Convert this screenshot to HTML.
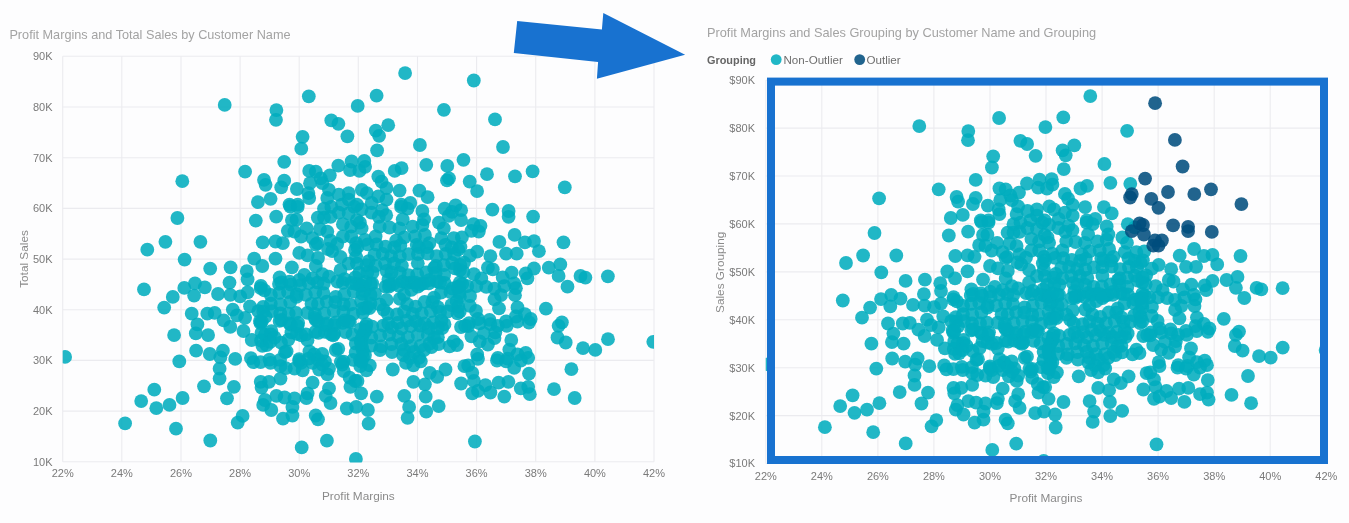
<!DOCTYPE html>
<html><head><meta charset="utf-8"><style>
html,body{margin:0;padding:0;background:#fdfdfe;width:1349px;height:523px;overflow:hidden}
svg{position:absolute;left:0;top:0}
text{font-family:"Liberation Sans",Arial,sans-serif}
.gl line{stroke:#ebebef;stroke-width:1.1}
.lab{fill:#7a7a7a;font-size:11px}
.ttl{fill:#a3a3a3;font-size:12.6px}
.axt{fill:#8a8a8a;font-size:11.8px}
.dots{fill:#00acbe;fill-opacity:0.87}
.dark{fill:#004d7d;fill-opacity:0.87}
</style></head><body>
<svg width="1349" height="523" viewBox="0 0 1349 523">
<g class="gl"><line x1="62.7" y1="56.3" x2="62.7" y2="461.8"/><line x1="121.8" y1="56.3" x2="121.8" y2="461.8"/><line x1="181.0" y1="56.3" x2="181.0" y2="461.8"/><line x1="240.1" y1="56.3" x2="240.1" y2="461.8"/><line x1="299.2" y1="56.3" x2="299.2" y2="461.8"/><line x1="358.3" y1="56.3" x2="358.3" y2="461.8"/><line x1="417.5" y1="56.3" x2="417.5" y2="461.8"/><line x1="476.6" y1="56.3" x2="476.6" y2="461.8"/><line x1="535.7" y1="56.3" x2="535.7" y2="461.8"/><line x1="594.9" y1="56.3" x2="594.9" y2="461.8"/><line x1="654.0" y1="56.3" x2="654.0" y2="461.8"/><line x1="62.7" y1="461.8" x2="654.0" y2="461.8"/><line x1="62.7" y1="411.1" x2="654.0" y2="411.1"/><line x1="62.7" y1="360.4" x2="654.0" y2="360.4"/><line x1="62.7" y1="309.7" x2="654.0" y2="309.7"/><line x1="62.7" y1="259.1" x2="654.0" y2="259.1"/><line x1="62.7" y1="208.4" x2="654.0" y2="208.4"/><line x1="62.7" y1="157.7" x2="654.0" y2="157.7"/><line x1="62.7" y1="107.0" x2="654.0" y2="107.0"/><line x1="62.7" y1="56.3" x2="654.0" y2="56.3"/><line x1="765.8" y1="80.2" x2="765.8" y2="463.5"/><line x1="821.8" y1="80.2" x2="821.8" y2="463.5"/><line x1="877.9" y1="80.2" x2="877.9" y2="463.5"/><line x1="933.9" y1="80.2" x2="933.9" y2="463.5"/><line x1="990.0" y1="80.2" x2="990.0" y2="463.5"/><line x1="1046.0" y1="80.2" x2="1046.0" y2="463.5"/><line x1="1102.1" y1="80.2" x2="1102.1" y2="463.5"/><line x1="1158.1" y1="80.2" x2="1158.1" y2="463.5"/><line x1="1214.2" y1="80.2" x2="1214.2" y2="463.5"/><line x1="1270.2" y1="80.2" x2="1270.2" y2="463.5"/><line x1="1326.3" y1="80.2" x2="1326.3" y2="463.5"/><line x1="765.8" y1="463.5" x2="1326.3" y2="463.5"/><line x1="765.8" y1="415.6" x2="1326.3" y2="415.6"/><line x1="765.8" y1="367.7" x2="1326.3" y2="367.7"/><line x1="765.8" y1="319.8" x2="1326.3" y2="319.8"/><line x1="765.8" y1="271.9" x2="1326.3" y2="271.9"/><line x1="765.8" y1="223.9" x2="1326.3" y2="223.9"/><line x1="765.8" y1="176.0" x2="1326.3" y2="176.0"/><line x1="765.8" y1="128.1" x2="1326.3" y2="128.1"/><line x1="765.8" y1="80.2" x2="1326.3" y2="80.2"/></g>
<text class="ttl" x="9.4" y="38.8" style="font-size:12.7px">Profit Margins and Total Sales by Customer Name</text>
<text class="ttl" x="707" y="36.7" style="font-size:12.75px">Profit Margins and Sales Grouping by Customer Name and Grouping</text>
<g class="lab"><text x="52.5" y="465.7" text-anchor="end">10K</text><text x="52.5" y="415.0" text-anchor="end">20K</text><text x="52.5" y="364.3" text-anchor="end">30K</text><text x="52.5" y="313.6" text-anchor="end">40K</text><text x="52.5" y="262.9" text-anchor="end">50K</text><text x="52.5" y="212.3" text-anchor="end">60K</text><text x="52.5" y="161.6" text-anchor="end">70K</text><text x="52.5" y="110.9" text-anchor="end">80K</text><text x="52.5" y="60.2" text-anchor="end">90K</text><text x="62.7" y="477.2" text-anchor="middle">22%</text><text x="121.8" y="477.2" text-anchor="middle">24%</text><text x="181.0" y="477.2" text-anchor="middle">26%</text><text x="240.1" y="477.2" text-anchor="middle">28%</text><text x="299.2" y="477.2" text-anchor="middle">30%</text><text x="358.3" y="477.2" text-anchor="middle">32%</text><text x="417.5" y="477.2" text-anchor="middle">34%</text><text x="476.6" y="477.2" text-anchor="middle">36%</text><text x="535.7" y="477.2" text-anchor="middle">38%</text><text x="594.9" y="477.2" text-anchor="middle">40%</text><text x="654.0" y="477.2" text-anchor="middle">42%</text><text x="755" y="467.4" text-anchor="end">$10K</text><text x="755" y="419.5" text-anchor="end">$20K</text><text x="755" y="371.6" text-anchor="end">$30K</text><text x="755" y="323.7" text-anchor="end">$40K</text><text x="755" y="275.8" text-anchor="end">$50K</text><text x="755" y="227.8" text-anchor="end">$60K</text><text x="755" y="179.9" text-anchor="end">$70K</text><text x="755" y="132.0" text-anchor="end">$80K</text><text x="755" y="84.1" text-anchor="end">$90K</text><text x="765.8" y="479.6" text-anchor="middle">22%</text><text x="821.8" y="479.6" text-anchor="middle">24%</text><text x="877.9" y="479.6" text-anchor="middle">26%</text><text x="933.9" y="479.6" text-anchor="middle">28%</text><text x="990.0" y="479.6" text-anchor="middle">30%</text><text x="1046.0" y="479.6" text-anchor="middle">32%</text><text x="1102.1" y="479.6" text-anchor="middle">34%</text><text x="1158.1" y="479.6" text-anchor="middle">36%</text><text x="1214.2" y="479.6" text-anchor="middle">38%</text><text x="1270.2" y="479.6" text-anchor="middle">40%</text><text x="1326.3" y="479.6" text-anchor="middle">42%</text></g>
<text class="axt" x="358.4" y="499.5" text-anchor="middle">Profit Margins</text>
<text class="axt" x="1046" y="501.5" text-anchor="middle">Profit Margins</text>
<text class="axt" transform="translate(27.6,259) rotate(-90)" text-anchor="middle">Total Sales</text>
<text class="axt" transform="translate(723.6,272.3) rotate(-90)" text-anchor="middle">Sales Grouping</text>
<text x="707" y="63.6" style="font-size:10.9px;font-weight:bold;fill:#666">Grouping</text>
<circle cx="776.2" cy="59.6" r="5.4" fill="#00acbe" fill-opacity="0.87"/>
<text x="783.5" y="63.6" style="font-size:11.6px;fill:#6e6e6e">Non-Outlier</text>
<circle cx="859.7" cy="59.6" r="5.4" fill="#004d7d" fill-opacity="0.87"/>
<text x="866.5" y="63.6" style="font-size:11.6px;fill:#6e6e6e">Outlier</text>
<defs><clipPath id="cl"><rect x="62.7" y="56.3" width="591.3" height="406.1"/></clipPath>
<clipPath id="cr"><rect x="765.75" y="80.2" width="560.5" height="383.3"/></clipPath></defs>
<g class="dots" clip-path="url(#cl)"><circle cx="224.7" cy="104.9" r="6.9"/><circle cx="276.4" cy="110.1" r="6.9"/><circle cx="276.0" cy="119.8" r="6.9"/><circle cx="308.8" cy="96.3" r="6.9"/><circle cx="331.3" cy="120.4" r="6.9"/><circle cx="338.4" cy="123.8" r="6.9"/><circle cx="357.7" cy="105.9" r="6.9"/><circle cx="376.6" cy="95.7" r="6.9"/><circle cx="405.1" cy="73.1" r="6.9"/><circle cx="388.2" cy="125.2" r="6.9"/><circle cx="443.9" cy="109.8" r="6.9"/><circle cx="473.8" cy="80.5" r="6.9"/><circle cx="495.0" cy="119.4" r="6.9"/><circle cx="182.3" cy="181.2" r="6.9"/><circle cx="245.1" cy="171.7" r="6.9"/><circle cx="302.6" cy="136.8" r="6.9"/><circle cx="301.3" cy="148.7" r="6.9"/><circle cx="347.4" cy="136.3" r="6.9"/><circle cx="375.8" cy="130.6" r="6.9"/><circle cx="379.1" cy="135.8" r="6.9"/><circle cx="377.1" cy="150.3" r="6.9"/><circle cx="419.9" cy="145.0" r="6.9"/><circle cx="284.2" cy="161.8" r="6.9"/><circle cx="338.3" cy="165.6" r="6.9"/><circle cx="351.6" cy="161.5" r="6.9"/><circle cx="364.3" cy="161.0" r="6.9"/><circle cx="365.1" cy="166.8" r="6.9"/><circle cx="350.0" cy="170.0" r="6.9"/><circle cx="359.4" cy="170.9" r="6.9"/><circle cx="309.2" cy="170.9" r="6.9"/><circle cx="315.8" cy="171.7" r="6.9"/><circle cx="329.8" cy="175.3" r="6.9"/><circle cx="320.7" cy="178.3" r="6.9"/><circle cx="310.0" cy="183.2" r="6.9"/><circle cx="322.4" cy="183.2" r="6.9"/><circle cx="394.7" cy="170.9" r="6.9"/><circle cx="401.6" cy="168.1" r="6.9"/><circle cx="426.3" cy="164.8" r="6.9"/><circle cx="447.3" cy="165.9" r="6.9"/><circle cx="449.0" cy="178.3" r="6.9"/><circle cx="264.0" cy="179.9" r="6.9"/><circle cx="265.6" cy="184.8" r="6.9"/><circle cx="284.2" cy="180.7" r="6.9"/><circle cx="281.2" cy="187.3" r="6.9"/><circle cx="296.9" cy="189.0" r="6.9"/><circle cx="308.4" cy="193.1" r="6.9"/><circle cx="257.9" cy="202.1" r="6.9"/><circle cx="270.6" cy="198.8" r="6.9"/><circle cx="289.5" cy="204.6" r="6.9"/><circle cx="297.7" cy="204.6" r="6.9"/><circle cx="309.2" cy="198.0" r="6.9"/><circle cx="328.9" cy="189.8" r="6.9"/><circle cx="327.3" cy="198.0" r="6.9"/><circle cx="338.8" cy="194.7" r="6.9"/><circle cx="348.7" cy="193.1" r="6.9"/><circle cx="348.7" cy="199.6" r="6.9"/><circle cx="361.8" cy="189.8" r="6.9"/><circle cx="366.8" cy="193.1" r="6.9"/><circle cx="378.3" cy="176.6" r="6.9"/><circle cx="381.6" cy="181.6" r="6.9"/><circle cx="386.5" cy="188.1" r="6.9"/><circle cx="378.3" cy="196.4" r="6.9"/><circle cx="386.5" cy="199.6" r="6.9"/><circle cx="399.6" cy="190.6" r="6.9"/><circle cx="419.4" cy="190.6" r="6.9"/><circle cx="427.6" cy="197.2" r="6.9"/><circle cx="401.3" cy="204.6" r="6.9"/><circle cx="410.3" cy="203.0" r="6.9"/><circle cx="455.6" cy="205.4" r="6.9"/><circle cx="342.0" cy="204.6" r="6.9"/><circle cx="357.0" cy="204.6" r="6.9"/><circle cx="371.7" cy="203.0" r="6.9"/><circle cx="503.0" cy="147.0" r="6.9"/><circle cx="463.5" cy="159.8" r="6.9"/><circle cx="487.0" cy="174.2" r="6.9"/><circle cx="515.0" cy="176.3" r="6.9"/><circle cx="532.6" cy="171.4" r="6.9"/><circle cx="469.7" cy="181.6" r="6.9"/><circle cx="477.1" cy="191.1" r="6.9"/><circle cx="564.8" cy="187.3" r="6.9"/><circle cx="177.4" cy="218.0" r="6.9"/><circle cx="165.4" cy="241.8" r="6.9"/><circle cx="147.3" cy="249.7" r="6.9"/><circle cx="200.4" cy="241.8" r="6.9"/><circle cx="184.6" cy="259.6" r="6.9"/><circle cx="210.2" cy="268.6" r="6.9"/><circle cx="230.6" cy="267.4" r="6.9"/><circle cx="255.8" cy="220.6" r="6.9"/><circle cx="254.2" cy="258.7" r="6.9"/><circle cx="246.8" cy="271.1" r="6.9"/><circle cx="247.6" cy="279.3" r="6.9"/><circle cx="229.5" cy="282.6" r="6.9"/><circle cx="195.0" cy="283.4" r="6.9"/><circle cx="276.2" cy="216.6" r="6.9"/><circle cx="290.3" cy="206.5" r="6.9"/><circle cx="297.7" cy="206.9" r="6.9"/><circle cx="291.9" cy="220.1" r="6.9"/><circle cx="296.5" cy="219.7" r="6.9"/><circle cx="287.8" cy="230.8" r="6.9"/><circle cx="294.4" cy="231.6" r="6.9"/><circle cx="306.7" cy="228.3" r="6.9"/><circle cx="317.8" cy="217.6" r="6.9"/><circle cx="324.0" cy="208.6" r="6.9"/><circle cx="331.4" cy="206.9" r="6.9"/><circle cx="324.0" cy="217.6" r="6.9"/><circle cx="330.6" cy="216.8" r="6.9"/><circle cx="338.8" cy="212.7" r="6.9"/><circle cx="354.4" cy="206.9" r="6.9"/><circle cx="348.7" cy="213.5" r="6.9"/><circle cx="319.9" cy="229.1" r="6.9"/><circle cx="327.3" cy="231.6" r="6.9"/><circle cx="342.9" cy="224.2" r="6.9"/><circle cx="351.2" cy="226.7" r="6.9"/><circle cx="356.9" cy="220.1" r="6.9"/><circle cx="342.9" cy="236.5" r="6.9"/><circle cx="351.2" cy="236.5" r="6.9"/><circle cx="262.7" cy="242.3" r="6.9"/><circle cx="275.5" cy="241.5" r="6.9"/><circle cx="282.9" cy="243.1" r="6.9"/><circle cx="301.0" cy="236.5" r="6.9"/><circle cx="312.5" cy="238.2" r="6.9"/><circle cx="317.4" cy="243.1" r="6.9"/><circle cx="330.6" cy="240.7" r="6.9"/><circle cx="337.2" cy="244.0" r="6.9"/><circle cx="356.1" cy="243.1" r="6.9"/><circle cx="361.6" cy="209.4" r="6.9"/><circle cx="371.4" cy="212.7" r="6.9"/><circle cx="382.1" cy="210.2" r="6.9"/><circle cx="386.2" cy="215.2" r="6.9"/><circle cx="378.8" cy="216.8" r="6.9"/><circle cx="401.1" cy="206.9" r="6.9"/><circle cx="407.6" cy="208.6" r="6.9"/><circle cx="402.7" cy="219.3" r="6.9"/><circle cx="422.4" cy="211.0" r="6.9"/><circle cx="424.1" cy="219.3" r="6.9"/><circle cx="444.6" cy="208.6" r="6.9"/><circle cx="452.0" cy="211.9" r="6.9"/><circle cx="461.1" cy="210.2" r="6.9"/><circle cx="461.1" cy="220.1" r="6.9"/><circle cx="438.9" cy="222.6" r="6.9"/><circle cx="443.8" cy="228.3" r="6.9"/><circle cx="359.9" cy="222.6" r="6.9"/><circle cx="361.6" cy="228.3" r="6.9"/><circle cx="379.7" cy="226.7" r="6.9"/><circle cx="389.5" cy="227.5" r="6.9"/><circle cx="399.4" cy="228.3" r="6.9"/><circle cx="412.6" cy="226.7" r="6.9"/><circle cx="422.4" cy="225.0" r="6.9"/><circle cx="424.9" cy="234.9" r="6.9"/><circle cx="415.0" cy="236.5" r="6.9"/><circle cx="404.3" cy="237.4" r="6.9"/><circle cx="396.1" cy="240.7" r="6.9"/><circle cx="375.6" cy="236.5" r="6.9"/><circle cx="364.9" cy="239.8" r="6.9"/><circle cx="441.3" cy="238.2" r="6.9"/><circle cx="453.7" cy="238.2" r="6.9"/><circle cx="461.9" cy="237.4" r="6.9"/><circle cx="262.3" cy="266.0" r="6.9"/><circle cx="275.5" cy="258.6" r="6.9"/><circle cx="291.9" cy="267.3" r="6.9"/><circle cx="279.6" cy="277.5" r="6.9"/><circle cx="299.3" cy="252.9" r="6.9"/><circle cx="307.6" cy="255.3" r="6.9"/><circle cx="315.8" cy="244.6" r="6.9"/><circle cx="304.3" cy="275.0" r="6.9"/><circle cx="299.3" cy="280.0" r="6.9"/><circle cx="315.8" cy="266.0" r="6.9"/><circle cx="318.0" cy="258.0" r="6.9"/><circle cx="328.0" cy="249.0" r="6.9"/><circle cx="332.2" cy="251.2" r="6.9"/><circle cx="329.0" cy="276.7" r="6.9"/><circle cx="322.4" cy="274.2" r="6.9"/><circle cx="312.5" cy="278.4" r="6.9"/><circle cx="340.5" cy="257.0" r="6.9"/><circle cx="355.0" cy="250.0" r="6.9"/><circle cx="348.7" cy="263.6" r="6.9"/><circle cx="356.9" cy="263.6" r="6.9"/><circle cx="340.5" cy="270.1" r="6.9"/><circle cx="344.6" cy="279.2" r="6.9"/><circle cx="355.3" cy="277.5" r="6.9"/><circle cx="289.5" cy="281.7" r="6.9"/><circle cx="492.4" cy="209.6" r="6.9"/><circle cx="508.6" cy="211.0" r="6.9"/><circle cx="508.6" cy="216.8" r="6.9"/><circle cx="533.1" cy="216.6" r="6.9"/><circle cx="473.5" cy="224.2" r="6.9"/><circle cx="480.5" cy="225.8" r="6.9"/><circle cx="471.4" cy="230.8" r="6.9"/><circle cx="478.8" cy="231.6" r="6.9"/><circle cx="514.6" cy="234.9" r="6.9"/><circle cx="499.4" cy="241.9" r="6.9"/><circle cx="524.9" cy="242.3" r="6.9"/><circle cx="534.0" cy="241.1" r="6.9"/><circle cx="563.5" cy="242.3" r="6.9"/><circle cx="458.3" cy="249.6" r="6.9"/><circle cx="477.2" cy="251.6" r="6.9"/><circle cx="490.4" cy="256.2" r="6.9"/><circle cx="506.0" cy="253.7" r="6.9"/><circle cx="516.7" cy="253.7" r="6.9"/><circle cx="538.9" cy="251.2" r="6.9"/><circle cx="464.0" cy="262.7" r="6.9"/><circle cx="459.9" cy="270.1" r="6.9"/><circle cx="487.9" cy="267.7" r="6.9"/><circle cx="492.8" cy="269.3" r="6.9"/><circle cx="473.9" cy="274.2" r="6.9"/><circle cx="481.3" cy="278.4" r="6.9"/><circle cx="459.9" cy="282.5" r="6.9"/><circle cx="511.7" cy="272.6" r="6.9"/><circle cx="502.7" cy="277.5" r="6.9"/><circle cx="525.7" cy="273.4" r="6.9"/><circle cx="534.0" cy="268.5" r="6.9"/><circle cx="527.4" cy="278.4" r="6.9"/><circle cx="548.8" cy="267.7" r="6.9"/><circle cx="560.3" cy="264.4" r="6.9"/><circle cx="558.6" cy="275.9" r="6.9"/><circle cx="514.2" cy="283.3" r="6.9"/><circle cx="580.5" cy="276.0" r="6.9"/><circle cx="585.4" cy="277.6" r="6.9"/><circle cx="607.9" cy="276.3" r="6.9"/><circle cx="144.0" cy="289.4" r="6.9"/><circle cx="172.8" cy="296.9" r="6.9"/><circle cx="164.2" cy="307.6" r="6.9"/><circle cx="184.3" cy="287.9" r="6.9"/><circle cx="194.1" cy="295.6" r="6.9"/><circle cx="204.8" cy="287.4" r="6.9"/><circle cx="218.0" cy="294.0" r="6.9"/><circle cx="230.3" cy="294.8" r="6.9"/><circle cx="247.6" cy="292.3" r="6.9"/><circle cx="260.7" cy="288.2" r="6.9"/><circle cx="240.2" cy="296.4" r="6.9"/><circle cx="191.7" cy="313.7" r="6.9"/><circle cx="207.3" cy="313.7" r="6.9"/><circle cx="214.7" cy="312.9" r="6.9"/><circle cx="223.7" cy="320.3" r="6.9"/><circle cx="232.8" cy="309.6" r="6.9"/><circle cx="236.9" cy="315.4" r="6.9"/><circle cx="250.0" cy="306.3" r="6.9"/><circle cx="245.1" cy="317.8" r="6.9"/><circle cx="258.3" cy="311.2" r="6.9"/><circle cx="259.9" cy="321.1" r="6.9"/><circle cx="230.3" cy="326.9" r="6.9"/><circle cx="243.5" cy="331.0" r="6.9"/><circle cx="197.4" cy="324.4" r="6.9"/><circle cx="195.8" cy="333.4" r="6.9"/><circle cx="208.1" cy="335.1" r="6.9"/><circle cx="174.1" cy="335.1" r="6.9"/><circle cx="251.7" cy="340.0" r="6.9"/><circle cx="261.6" cy="332.6" r="6.9"/><circle cx="262.4" cy="345.8" r="6.9"/><circle cx="196.1" cy="350.7" r="6.9"/><circle cx="209.8" cy="354.0" r="6.9"/><circle cx="222.9" cy="350.7" r="6.9"/><circle cx="220.4" cy="357.3" r="6.9"/><circle cx="235.2" cy="358.9" r="6.9"/><circle cx="250.9" cy="358.1" r="6.9"/><circle cx="253.3" cy="362.2" r="6.9"/><circle cx="179.3" cy="361.4" r="6.9"/><circle cx="65.1" cy="356.9" r="6.9"/><circle cx="453.7" cy="341.4" r="6.9"/><circle cx="449.6" cy="346.3" r="6.9"/><circle cx="442.2" cy="328.2" r="6.9"/><circle cx="434.0" cy="338.0" r="6.9"/><circle cx="431.5" cy="347.1" r="6.9"/><circle cx="419.1" cy="357.8" r="6.9"/><circle cx="410.0" cy="358.0" r="6.9"/><circle cx="403.0" cy="355.0" r="6.9"/><circle cx="365.0" cy="355.0" r="6.9"/><circle cx="360.0" cy="360.0" r="6.9"/><circle cx="465.0" cy="325.8" r="6.9"/><circle cx="363.0" cy="357.0" r="6.9"/><circle cx="362.0" cy="347.0" r="6.9"/><circle cx="380.0" cy="350.0" r="6.9"/><circle cx="392.0" cy="352.0" r="6.9"/><circle cx="404.0" cy="350.0" r="6.9"/><circle cx="414.0" cy="352.0" r="6.9"/><circle cx="424.0" cy="350.0" r="6.9"/><circle cx="515.9" cy="288.2" r="6.9"/><circle cx="515.0" cy="295.2" r="6.9"/><circle cx="504.3" cy="286.1" r="6.9"/><circle cx="501.0" cy="295.2" r="6.9"/><circle cx="494.5" cy="299.3" r="6.9"/><circle cx="499.0" cy="308.3" r="6.9"/><circle cx="517.5" cy="307.5" r="6.9"/><circle cx="524.9" cy="314.1" r="6.9"/><circle cx="530.7" cy="319.0" r="6.9"/><circle cx="515.9" cy="316.5" r="6.9"/><circle cx="545.9" cy="308.7" r="6.9"/><circle cx="561.9" cy="322.3" r="6.9"/><circle cx="567.5" cy="286.7" r="6.9"/><circle cx="489.5" cy="319.8" r="6.9"/><circle cx="506.0" cy="321.5" r="6.9"/><circle cx="476.0" cy="311.0" r="6.9"/><circle cx="478.0" cy="319.0" r="6.9"/><circle cx="457.5" cy="287.0" r="6.9"/><circle cx="467.3" cy="286.1" r="6.9"/><circle cx="476.4" cy="286.1" r="6.9"/><circle cx="486.2" cy="286.9" r="6.9"/><circle cx="494.5" cy="288.6" r="6.9"/><circle cx="459.9" cy="296.8" r="6.9"/><circle cx="470.0" cy="296.0" r="6.9"/><circle cx="458.3" cy="306.7" r="6.9"/><circle cx="469.8" cy="305.8" r="6.9"/><circle cx="457.5" cy="313.3" r="6.9"/><circle cx="469.0" cy="323.1" r="6.9"/><circle cx="557.5" cy="337.5" r="6.9"/><circle cx="565.7" cy="342.5" r="6.9"/><circle cx="583.0" cy="348.2" r="6.9"/><circle cx="595.3" cy="349.9" r="6.9"/><circle cx="608.0" cy="339.2" r="6.9"/><circle cx="653.3" cy="341.8" r="6.9"/><circle cx="457.0" cy="345.0" r="6.9"/><circle cx="468.2" cy="326.2" r="6.9"/><circle cx="479.7" cy="323.3" r="6.9"/><circle cx="490.4" cy="324.1" r="6.9"/><circle cx="497.8" cy="325.8" r="6.9"/><circle cx="506.8" cy="325.8" r="6.9"/><circle cx="517.5" cy="321.6" r="6.9"/><circle cx="529.0" cy="322.5" r="6.9"/><circle cx="471.4" cy="336.4" r="6.9"/><circle cx="479.7" cy="341.4" r="6.9"/><circle cx="487.9" cy="344.7" r="6.9"/><circle cx="494.5" cy="338.1" r="6.9"/><circle cx="483.8" cy="333.2" r="6.9"/><circle cx="495.3" cy="332.3" r="6.9"/><circle cx="511.3" cy="340.1" r="6.9"/><circle cx="509.3" cy="349.6" r="6.9"/><circle cx="525.7" cy="352.9" r="6.9"/><circle cx="517.5" cy="354.5" r="6.9"/><circle cx="497.8" cy="357.8" r="6.9"/><circle cx="507.6" cy="358.7" r="6.9"/><circle cx="528.2" cy="357.8" r="6.9"/><circle cx="477.2" cy="354.5" r="6.9"/><circle cx="558.6" cy="325.8" r="6.9"/><circle cx="219.6" cy="368.7" r="6.9"/><circle cx="219.6" cy="378.6" r="6.9"/><circle cx="204.0" cy="386.3" r="6.9"/><circle cx="233.9" cy="386.8" r="6.9"/><circle cx="227.0" cy="398.3" r="6.9"/><circle cx="260.7" cy="381.8" r="6.9"/><circle cx="261.6" cy="387.6" r="6.9"/><circle cx="263.2" cy="404.9" r="6.9"/><circle cx="154.3" cy="389.7" r="6.9"/><circle cx="141.2" cy="401.1" r="6.9"/><circle cx="156.3" cy="408.2" r="6.9"/><circle cx="169.5" cy="404.9" r="6.9"/><circle cx="182.6" cy="398.0" r="6.9"/><circle cx="125.1" cy="423.4" r="6.9"/><circle cx="176.0" cy="428.7" r="6.9"/><circle cx="242.6" cy="415.9" r="6.9"/><circle cx="237.7" cy="422.6" r="6.9"/><circle cx="210.3" cy="440.5" r="6.9"/><circle cx="270.6" cy="362.9" r="6.9"/><circle cx="280.5" cy="366.2" r="6.9"/><circle cx="280.5" cy="378.6" r="6.9"/><circle cx="269.0" cy="381.8" r="6.9"/><circle cx="294.5" cy="368.7" r="6.9"/><circle cx="302.7" cy="370.3" r="6.9"/><circle cx="301.0" cy="362.9" r="6.9"/><circle cx="312.6" cy="362.9" r="6.9"/><circle cx="324.9" cy="361.3" r="6.9"/><circle cx="319.1" cy="369.5" r="6.9"/><circle cx="327.4" cy="374.4" r="6.9"/><circle cx="329.0" cy="368.7" r="6.9"/><circle cx="312.6" cy="382.7" r="6.9"/><circle cx="307.6" cy="393.4" r="6.9"/><circle cx="329.0" cy="388.4" r="6.9"/><circle cx="325.7" cy="395.8" r="6.9"/><circle cx="342.2" cy="364.6" r="6.9"/><circle cx="343.8" cy="371.2" r="6.9"/><circle cx="349.6" cy="377.7" r="6.9"/><circle cx="360.3" cy="366.2" r="6.9"/><circle cx="355.3" cy="381.0" r="6.9"/><circle cx="350.4" cy="386.8" r="6.9"/><circle cx="361.1" cy="393.4" r="6.9"/><circle cx="276.4" cy="395.8" r="6.9"/><circle cx="284.6" cy="397.5" r="6.9"/><circle cx="294.5" cy="398.3" r="6.9"/><circle cx="264.9" cy="400.0" r="6.9"/><circle cx="369.8" cy="365.4" r="6.9"/><circle cx="366.5" cy="370.3" r="6.9"/><circle cx="357.5" cy="381.0" r="6.9"/><circle cx="376.8" cy="396.7" r="6.9"/><circle cx="392.8" cy="369.5" r="6.9"/><circle cx="406.0" cy="362.9" r="6.9"/><circle cx="413.4" cy="365.4" r="6.9"/><circle cx="420.8" cy="361.3" r="6.9"/><circle cx="413.4" cy="381.8" r="6.9"/><circle cx="404.3" cy="395.8" r="6.9"/><circle cx="424.9" cy="384.3" r="6.9"/><circle cx="425.7" cy="396.7" r="6.9"/><circle cx="429.8" cy="372.8" r="6.9"/><circle cx="437.2" cy="376.9" r="6.9"/><circle cx="445.5" cy="369.5" r="6.9"/><circle cx="461.1" cy="383.5" r="6.9"/><circle cx="464.4" cy="366.2" r="6.9"/><circle cx="271.3" cy="410.0" r="6.9"/><circle cx="306.4" cy="398.0" r="6.9"/><circle cx="292.4" cy="406.9" r="6.9"/><circle cx="292.4" cy="415.5" r="6.9"/><circle cx="283.0" cy="418.6" r="6.9"/><circle cx="315.7" cy="415.5" r="6.9"/><circle cx="318.0" cy="419.3" r="6.9"/><circle cx="330.5" cy="403.0" r="6.9"/><circle cx="346.8" cy="408.5" r="6.9"/><circle cx="356.2" cy="406.9" r="6.9"/><circle cx="367.9" cy="410.0" r="6.9"/><circle cx="368.6" cy="423.7" r="6.9"/><circle cx="409.1" cy="406.9" r="6.9"/><circle cx="407.6" cy="417.8" r="6.9"/><circle cx="426.2" cy="411.6" r="6.9"/><circle cx="438.7" cy="406.1" r="6.9"/><circle cx="301.7" cy="447.4" r="6.9"/><circle cx="326.9" cy="440.7" r="6.9"/><circle cx="355.9" cy="459.0" r="6.9"/><circle cx="468.2" cy="365.4" r="6.9"/><circle cx="478.0" cy="358.8" r="6.9"/><circle cx="472.3" cy="372.8" r="6.9"/><circle cx="473.9" cy="381.0" r="6.9"/><circle cx="472.3" cy="393.4" r="6.9"/><circle cx="478.0" cy="390.9" r="6.9"/><circle cx="485.4" cy="385.1" r="6.9"/><circle cx="490.4" cy="392.5" r="6.9"/><circle cx="498.6" cy="382.7" r="6.9"/><circle cx="508.4" cy="381.8" r="6.9"/><circle cx="504.3" cy="396.6" r="6.9"/><circle cx="497.0" cy="360.5" r="6.9"/><circle cx="506.0" cy="361.3" r="6.9"/><circle cx="514.2" cy="367.9" r="6.9"/><circle cx="520.8" cy="360.5" r="6.9"/><circle cx="529.0" cy="373.6" r="6.9"/><circle cx="520.8" cy="388.4" r="6.9"/><circle cx="528.2" cy="386.8" r="6.9"/><circle cx="529.8" cy="394.2" r="6.9"/><circle cx="554.0" cy="389.2" r="6.9"/><circle cx="571.4" cy="369.2" r="6.9"/><circle cx="574.7" cy="398.0" r="6.9"/><circle cx="474.9" cy="441.5" r="6.9"/><circle cx="357.4" cy="247.1" r="6.9"/><circle cx="356.1" cy="256.8" r="6.9"/><circle cx="359.3" cy="272.9" r="6.9"/><circle cx="356.5" cy="284.2" r="6.9"/><circle cx="367.8" cy="244.3" r="6.9"/><circle cx="368.7" cy="261.1" r="6.9"/><circle cx="366.4" cy="265.2" r="6.9"/><circle cx="367.4" cy="272.5" r="6.9"/><circle cx="365.5" cy="281.9" r="6.9"/><circle cx="376.5" cy="244.5" r="6.9"/><circle cx="374.5" cy="254.6" r="6.9"/><circle cx="375.7" cy="265.9" r="6.9"/><circle cx="372.6" cy="272.7" r="6.9"/><circle cx="372.2" cy="283.5" r="6.9"/><circle cx="385.5" cy="246.6" r="6.9"/><circle cx="382.7" cy="253.8" r="6.9"/><circle cx="385.0" cy="263.5" r="6.9"/><circle cx="386.7" cy="271.0" r="6.9"/><circle cx="385.5" cy="286.7" r="6.9"/><circle cx="394.3" cy="247.5" r="6.9"/><circle cx="391.1" cy="256.1" r="6.9"/><circle cx="394.1" cy="263.3" r="6.9"/><circle cx="391.5" cy="272.5" r="6.9"/><circle cx="393.4" cy="283.9" r="6.9"/><circle cx="400.3" cy="245.5" r="6.9"/><circle cx="399.8" cy="256.5" r="6.9"/><circle cx="401.9" cy="265.6" r="6.9"/><circle cx="399.8" cy="272.8" r="6.9"/><circle cx="402.6" cy="281.6" r="6.9"/><circle cx="416.7" cy="244.8" r="6.9"/><circle cx="408.7" cy="254.2" r="6.9"/><circle cx="417.8" cy="263.2" r="6.9"/><circle cx="408.4" cy="275.1" r="6.9"/><circle cx="411.5" cy="282.3" r="6.9"/><circle cx="418.9" cy="247.0" r="6.9"/><circle cx="417.9" cy="254.1" r="6.9"/><circle cx="417.2" cy="274.5" r="6.9"/><circle cx="420.2" cy="284.5" r="6.9"/><circle cx="426.9" cy="247.2" r="6.9"/><circle cx="427.6" cy="253.6" r="6.9"/><circle cx="434.1" cy="267.9" r="6.9"/><circle cx="426.3" cy="272.3" r="6.9"/><circle cx="428.7" cy="283.4" r="6.9"/><circle cx="429.4" cy="243.1" r="6.9"/><circle cx="436.6" cy="256.2" r="6.9"/><circle cx="435.9" cy="265.9" r="6.9"/><circle cx="435.6" cy="273.2" r="6.9"/><circle cx="436.8" cy="281.4" r="6.9"/><circle cx="445.4" cy="244.8" r="6.9"/><circle cx="445.8" cy="253.9" r="6.9"/><circle cx="443.9" cy="265.1" r="6.9"/><circle cx="444.1" cy="275.0" r="6.9"/><circle cx="444.6" cy="283.0" r="6.9"/><circle cx="451.7" cy="247.3" r="6.9"/><circle cx="454.2" cy="254.3" r="6.9"/><circle cx="452.1" cy="263.0" r="6.9"/><circle cx="454.9" cy="268.3" r="6.9"/><circle cx="452.4" cy="288.5" r="6.9"/><circle cx="460.5" cy="246.8" r="6.9"/><circle cx="470.0" cy="255.7" r="6.9"/><circle cx="460.3" cy="265.0" r="6.9"/><circle cx="463.4" cy="272.2" r="6.9"/><circle cx="462.3" cy="283.8" r="6.9"/><circle cx="260.9" cy="285.9" r="6.9"/><circle cx="264.4" cy="290.3" r="6.9"/><circle cx="263.1" cy="307.0" r="6.9"/><circle cx="263.3" cy="311.7" r="6.9"/><circle cx="260.5" cy="323.2" r="6.9"/><circle cx="279.0" cy="283.9" r="6.9"/><circle cx="270.9" cy="295.0" r="6.9"/><circle cx="270.8" cy="303.7" r="6.9"/><circle cx="271.9" cy="311.2" r="6.9"/><circle cx="265.5" cy="316.6" r="6.9"/><circle cx="281.4" cy="282.5" r="6.9"/><circle cx="279.4" cy="292.8" r="6.9"/><circle cx="280.6" cy="304.4" r="6.9"/><circle cx="280.3" cy="313.5" r="6.9"/><circle cx="279.6" cy="320.9" r="6.9"/><circle cx="290.8" cy="284.6" r="6.9"/><circle cx="288.0" cy="292.1" r="6.9"/><circle cx="290.2" cy="302.0" r="6.9"/><circle cx="288.7" cy="313.6" r="6.9"/><circle cx="289.3" cy="323.3" r="6.9"/><circle cx="300.0" cy="285.5" r="6.9"/><circle cx="296.8" cy="294.4" r="6.9"/><circle cx="296.5" cy="296.9" r="6.9"/><circle cx="296.1" cy="312.8" r="6.9"/><circle cx="298.2" cy="323.0" r="6.9"/><circle cx="308.8" cy="283.2" r="6.9"/><circle cx="305.9" cy="294.8" r="6.9"/><circle cx="311.5" cy="303.8" r="6.9"/><circle cx="307.4" cy="312.8" r="6.9"/><circle cx="314.7" cy="317.8" r="6.9"/><circle cx="317.5" cy="282.7" r="6.9"/><circle cx="315.3" cy="292.4" r="6.9"/><circle cx="318.0" cy="304.0" r="6.9"/><circle cx="314.9" cy="313.8" r="6.9"/><circle cx="318.1" cy="321.3" r="6.9"/><circle cx="323.8" cy="283.6" r="6.9"/><circle cx="323.5" cy="293.2" r="6.9"/><circle cx="326.8" cy="301.7" r="6.9"/><circle cx="324.2" cy="313.3" r="6.9"/><circle cx="327.2" cy="323.5" r="6.9"/><circle cx="337.4" cy="281.5" r="6.9"/><circle cx="335.7" cy="296.8" r="6.9"/><circle cx="335.3" cy="302.2" r="6.9"/><circle cx="333.7" cy="311.0" r="6.9"/><circle cx="336.1" cy="322.4" r="6.9"/><circle cx="342.8" cy="282.8" r="6.9"/><circle cx="344.4" cy="294.4" r="6.9"/><circle cx="343.7" cy="304.4" r="6.9"/><circle cx="343.4" cy="312.0" r="6.9"/><circle cx="344.7" cy="320.4" r="6.9"/><circle cx="351.5" cy="283.0" r="6.9"/><circle cx="353.7" cy="291.6" r="6.9"/><circle cx="350.2" cy="304.6" r="6.9"/><circle cx="353.2" cy="314.0" r="6.9"/><circle cx="349.9" cy="322.0" r="6.9"/><circle cx="360.4" cy="285.3" r="6.9"/><circle cx="364.4" cy="291.2" r="6.9"/><circle cx="366.5" cy="307.4" r="6.9"/><circle cx="362.9" cy="312.8" r="6.9"/><circle cx="365.7" cy="326.5" r="6.9"/><circle cx="362.0" cy="285.6" r="6.9"/><circle cx="362.5" cy="293.9" r="6.9"/><circle cx="361.1" cy="301.5" r="6.9"/><circle cx="362.4" cy="308.6" r="6.9"/><circle cx="360.7" cy="329.2" r="6.9"/><circle cx="370.6" cy="283.8" r="6.9"/><circle cx="370.5" cy="295.0" r="6.9"/><circle cx="370.4" cy="303.7" r="6.9"/><circle cx="369.4" cy="308.1" r="6.9"/><circle cx="388.4" cy="279.7" r="6.9"/><circle cx="375.0" cy="293.6" r="6.9"/><circle cx="379.8" cy="304.4" r="6.9"/><circle cx="383.6" cy="309.6" r="6.9"/><circle cx="383.2" cy="325.6" r="6.9"/><circle cx="389.7" cy="284.6" r="6.9"/><circle cx="388.9" cy="286.7" r="6.9"/><circle cx="386.6" cy="299.9" r="6.9"/><circle cx="387.6" cy="313.6" r="6.9"/><circle cx="388.3" cy="323.3" r="6.9"/><circle cx="398.5" cy="285.5" r="6.9"/><circle cx="399.8" cy="298.9" r="6.9"/><circle cx="397.0" cy="314.4" r="6.9"/><circle cx="397.6" cy="322.9" r="6.9"/><circle cx="407.0" cy="283.2" r="6.9"/><circle cx="404.1" cy="294.8" r="6.9"/><circle cx="407.2" cy="304.1" r="6.9"/><circle cx="404.1" cy="311.5" r="6.9"/><circle cx="406.9" cy="320.6" r="6.9"/><circle cx="415.3" cy="282.7" r="6.9"/><circle cx="411.4" cy="289.9" r="6.9"/><circle cx="415.6" cy="306.7" r="6.9"/><circle cx="412.8" cy="313.8" r="6.9"/><circle cx="415.9" cy="321.3" r="6.9"/><circle cx="423.1" cy="283.7" r="6.9"/><circle cx="417.9" cy="286.7" r="6.9"/><circle cx="424.6" cy="301.9" r="6.9"/><circle cx="421.7" cy="313.3" r="6.9"/><circle cx="424.7" cy="323.5" r="6.9"/><circle cx="429.1" cy="280.2" r="6.9"/><circle cx="434.0" cy="297.6" r="6.9"/><circle cx="432.4" cy="302.2" r="6.9"/><circle cx="430.8" cy="311.0" r="6.9"/><circle cx="433.1" cy="322.4" r="6.9"/><circle cx="440.0" cy="282.5" r="6.9"/><circle cx="441.0" cy="292.7" r="6.9"/><circle cx="437.8" cy="307.2" r="6.9"/><circle cx="440.1" cy="312.0" r="6.9"/><circle cx="441.4" cy="320.4" r="6.9"/><circle cx="450.4" cy="292.1" r="6.9"/><circle cx="451.3" cy="305.2" r="6.9"/><circle cx="447.7" cy="311.5" r="6.9"/><circle cx="444.5" cy="324.2" r="6.9"/><circle cx="459.1" cy="286.9" r="6.9"/><circle cx="459.5" cy="292.8" r="6.9"/><circle cx="456.7" cy="301.5" r="6.9"/><circle cx="459.8" cy="311.6" r="6.9"/><circle cx="461.0" cy="327.0" r="6.9"/><circle cx="261.8" cy="321.6" r="6.9"/><circle cx="265.0" cy="334.8" r="6.9"/><circle cx="261.1" cy="340.5" r="6.9"/><circle cx="266.6" cy="345.2" r="6.9"/><circle cx="260.6" cy="362.1" r="6.9"/><circle cx="271.4" cy="331.1" r="6.9"/><circle cx="270.9" cy="334.5" r="6.9"/><circle cx="270.4" cy="341.9" r="6.9"/><circle cx="269.5" cy="359.6" r="6.9"/><circle cx="281.3" cy="319.8" r="6.9"/><circle cx="274.6" cy="337.5" r="6.9"/><circle cx="281.0" cy="342.7" r="6.9"/><circle cx="285.0" cy="352.2" r="6.9"/><circle cx="280.1" cy="359.8" r="6.9"/><circle cx="290.8" cy="324.6" r="6.9"/><circle cx="291.4" cy="332.4" r="6.9"/><circle cx="288.3" cy="339.6" r="6.9"/><circle cx="286.6" cy="351.4" r="6.9"/><circle cx="285.8" cy="368.2" r="6.9"/><circle cx="297.5" cy="326.0" r="6.9"/><circle cx="296.8" cy="333.9" r="6.9"/><circle cx="301.4" cy="335.3" r="6.9"/><circle cx="299.2" cy="359.1" r="6.9"/><circle cx="299.2" cy="360.9" r="6.9"/><circle cx="315.9" cy="320.2" r="6.9"/><circle cx="305.9" cy="334.3" r="6.9"/><circle cx="307.5" cy="340.2" r="6.9"/><circle cx="309.4" cy="351.4" r="6.9"/><circle cx="308.7" cy="358.6" r="6.9"/><circle cx="315.3" cy="331.9" r="6.9"/><circle cx="318.5" cy="332.8" r="6.9"/><circle cx="314.2" cy="354.5" r="6.9"/><circle cx="318.1" cy="359.3" r="6.9"/><circle cx="325.9" cy="325.0" r="6.9"/><circle cx="324.9" cy="331.9" r="6.9"/><circle cx="330.8" cy="334.0" r="6.9"/><circle cx="322.2" cy="353.9" r="6.9"/><circle cx="322.5" cy="364.6" r="6.9"/><circle cx="334.3" cy="325.2" r="6.9"/><circle cx="334.2" cy="333.8" r="6.9"/><circle cx="333.1" cy="335.3" r="6.9"/><circle cx="335.8" cy="350.0" r="6.9"/><circle cx="340.8" cy="361.8" r="6.9"/><circle cx="342.8" cy="322.8" r="6.9"/><circle cx="345.5" cy="332.0" r="6.9"/><circle cx="338.3" cy="348.8" r="6.9"/><circle cx="343.6" cy="361.7" r="6.9"/><circle cx="348.5" cy="321.4" r="6.9"/><circle cx="352.5" cy="334.6" r="6.9"/><circle cx="355.8" cy="343.7" r="6.9"/><circle cx="355.7" cy="352.4" r="6.9"/><circle cx="353.1" cy="359.8" r="6.9"/><circle cx="366.5" cy="324.1" r="6.9"/><circle cx="364.0" cy="332.7" r="6.9"/><circle cx="360.7" cy="340.5" r="6.9"/><circle cx="362.9" cy="351.3" r="6.9"/><circle cx="361.5" cy="361.6" r="6.9"/><circle cx="365.6" cy="330.5" r="6.9"/><circle cx="362.5" cy="336.4" r="6.9"/><circle cx="361.1" cy="343.5" r="6.9"/><circle cx="372.2" cy="326.7" r="6.9"/><circle cx="371.3" cy="337.5" r="6.9"/><circle cx="371.2" cy="345.7" r="6.9"/><circle cx="380.2" cy="335.3" r="6.9"/><circle cx="381.4" cy="346.4" r="6.9"/><circle cx="392.0" cy="327.6" r="6.9"/><circle cx="389.2" cy="334.6" r="6.9"/><circle cx="391.5" cy="344.0" r="6.9"/><circle cx="401.6" cy="328.5" r="6.9"/><circle cx="398.4" cy="336.9" r="6.9"/><circle cx="401.4" cy="343.8" r="6.9"/><circle cx="410.9" cy="326.2" r="6.9"/><circle cx="407.9" cy="337.3" r="6.9"/><circle cx="411.1" cy="346.1" r="6.9"/><circle cx="419.9" cy="325.7" r="6.9"/><circle cx="417.7" cy="334.9" r="6.9"/><circle cx="420.5" cy="346.0" r="6.9"/><circle cx="428.8" cy="328.0" r="6.9"/><circle cx="427.8" cy="334.9" r="6.9"/><circle cx="429.6" cy="343.7" r="6.9"/><circle cx="437.6" cy="328.2" r="6.9"/><circle cx="437.9" cy="337.2" r="6.9"/><circle cx="438.6" cy="344.2" r="6.9"/><circle cx="447.0" cy="180.4" r="6.9"/><circle cx="448.8" cy="215.9" r="6.9"/></g>
<g clip-path="url(#cr)"><g class="dots"><circle cx="919.3" cy="126.1" r="6.9"/><circle cx="968.3" cy="131.1" r="6.9"/><circle cx="968.0" cy="140.2" r="6.9"/><circle cx="999.1" cy="118.0" r="6.9"/><circle cx="1020.4" cy="140.8" r="6.9"/><circle cx="1027.1" cy="144.0" r="6.9"/><circle cx="1045.4" cy="127.1" r="6.9"/><circle cx="1063.3" cy="117.4" r="6.9"/><circle cx="1090.3" cy="96.1" r="6.9"/><circle cx="1074.3" cy="145.3" r="6.9"/><circle cx="1127.1" cy="130.8" r="6.9"/><circle cx="879.1" cy="198.3" r="6.9"/><circle cx="938.7" cy="189.3" r="6.9"/><circle cx="993.2" cy="156.3" r="6.9"/><circle cx="991.9" cy="167.5" r="6.9"/><circle cx="1035.6" cy="155.8" r="6.9"/><circle cx="1062.6" cy="150.4" r="6.9"/><circle cx="1065.7" cy="155.3" r="6.9"/><circle cx="1063.8" cy="169.1" r="6.9"/><circle cx="1104.4" cy="164.0" r="6.9"/><circle cx="975.7" cy="179.9" r="6.9"/><circle cx="1027.0" cy="183.5" r="6.9"/><circle cx="1039.6" cy="179.6" r="6.9"/><circle cx="1051.7" cy="179.2" r="6.9"/><circle cx="1052.4" cy="184.7" r="6.9"/><circle cx="1038.1" cy="187.7" r="6.9"/><circle cx="1047.0" cy="188.5" r="6.9"/><circle cx="999.4" cy="188.5" r="6.9"/><circle cx="1005.7" cy="189.3" r="6.9"/><circle cx="1019.0" cy="192.7" r="6.9"/><circle cx="1010.3" cy="195.5" r="6.9"/><circle cx="1000.2" cy="200.2" r="6.9"/><circle cx="1011.9" cy="200.2" r="6.9"/><circle cx="1080.5" cy="188.5" r="6.9"/><circle cx="1087.0" cy="185.9" r="6.9"/><circle cx="1110.4" cy="182.8" r="6.9"/><circle cx="1130.3" cy="183.8" r="6.9"/><circle cx="956.6" cy="197.0" r="6.9"/><circle cx="958.1" cy="201.7" r="6.9"/><circle cx="975.7" cy="197.8" r="6.9"/><circle cx="972.9" cy="204.0" r="6.9"/><circle cx="987.8" cy="205.6" r="6.9"/><circle cx="998.7" cy="209.5" r="6.9"/><circle cx="950.8" cy="218.0" r="6.9"/><circle cx="962.8" cy="214.9" r="6.9"/><circle cx="980.8" cy="220.4" r="6.9"/><circle cx="988.5" cy="220.4" r="6.9"/><circle cx="999.4" cy="214.1" r="6.9"/><circle cx="1018.1" cy="206.4" r="6.9"/><circle cx="1016.6" cy="214.1" r="6.9"/><circle cx="1027.5" cy="211.0" r="6.9"/><circle cx="1036.9" cy="209.5" r="6.9"/><circle cx="1036.9" cy="215.7" r="6.9"/><circle cx="1049.3" cy="206.4" r="6.9"/><circle cx="1054.0" cy="209.5" r="6.9"/><circle cx="1064.9" cy="193.9" r="6.9"/><circle cx="1068.1" cy="198.6" r="6.9"/><circle cx="1072.7" cy="204.8" r="6.9"/><circle cx="1064.9" cy="212.6" r="6.9"/><circle cx="1072.7" cy="215.7" r="6.9"/><circle cx="1085.1" cy="207.1" r="6.9"/><circle cx="1103.9" cy="207.1" r="6.9"/><circle cx="1111.7" cy="213.4" r="6.9"/><circle cx="1086.7" cy="220.4" r="6.9"/><circle cx="1095.3" cy="218.9" r="6.9"/><circle cx="1030.5" cy="220.4" r="6.9"/><circle cx="1044.7" cy="220.4" r="6.9"/><circle cx="1058.7" cy="218.9" r="6.9"/><circle cx="874.5" cy="233.0" r="6.9"/><circle cx="863.1" cy="255.5" r="6.9"/><circle cx="846.0" cy="263.0" r="6.9"/><circle cx="896.3" cy="255.5" r="6.9"/><circle cx="881.3" cy="272.4" r="6.9"/><circle cx="905.6" cy="280.9" r="6.9"/><circle cx="924.9" cy="279.7" r="6.9"/><circle cx="948.8" cy="235.5" r="6.9"/><circle cx="947.3" cy="271.5" r="6.9"/><circle cx="940.3" cy="283.2" r="6.9"/><circle cx="941.0" cy="291.0" r="6.9"/><circle cx="923.9" cy="294.1" r="6.9"/><circle cx="891.2" cy="294.9" r="6.9"/><circle cx="968.1" cy="231.7" r="6.9"/><circle cx="981.5" cy="222.2" r="6.9"/><circle cx="988.5" cy="222.6" r="6.9"/><circle cx="983.0" cy="235.0" r="6.9"/><circle cx="987.4" cy="234.7" r="6.9"/><circle cx="979.1" cy="245.1" r="6.9"/><circle cx="985.4" cy="245.9" r="6.9"/><circle cx="997.1" cy="242.8" r="6.9"/><circle cx="1007.6" cy="232.7" r="6.9"/><circle cx="1013.5" cy="224.2" r="6.9"/><circle cx="1020.5" cy="222.6" r="6.9"/><circle cx="1013.5" cy="232.7" r="6.9"/><circle cx="1019.7" cy="231.9" r="6.9"/><circle cx="1027.5" cy="228.0" r="6.9"/><circle cx="1042.3" cy="222.6" r="6.9"/><circle cx="1036.9" cy="228.8" r="6.9"/><circle cx="1009.6" cy="243.5" r="6.9"/><circle cx="1016.6" cy="245.9" r="6.9"/><circle cx="1031.4" cy="238.9" r="6.9"/><circle cx="1039.2" cy="241.3" r="6.9"/><circle cx="1044.7" cy="235.0" r="6.9"/><circle cx="1031.4" cy="250.5" r="6.9"/><circle cx="1039.2" cy="250.5" r="6.9"/><circle cx="955.3" cy="256.0" r="6.9"/><circle cx="967.5" cy="255.3" r="6.9"/><circle cx="974.5" cy="256.8" r="6.9"/><circle cx="991.7" cy="250.5" r="6.9"/><circle cx="1002.6" cy="252.1" r="6.9"/><circle cx="1007.2" cy="256.8" r="6.9"/><circle cx="1019.7" cy="254.5" r="6.9"/><circle cx="1026.0" cy="257.6" r="6.9"/><circle cx="1043.9" cy="256.8" r="6.9"/><circle cx="1049.1" cy="224.9" r="6.9"/><circle cx="1058.4" cy="228.0" r="6.9"/><circle cx="1068.5" cy="225.7" r="6.9"/><circle cx="1072.4" cy="230.4" r="6.9"/><circle cx="1065.4" cy="231.9" r="6.9"/><circle cx="1086.6" cy="222.6" r="6.9"/><circle cx="1092.7" cy="224.2" r="6.9"/><circle cx="1088.1" cy="234.3" r="6.9"/><circle cx="1106.7" cy="226.4" r="6.9"/><circle cx="1108.4" cy="234.3" r="6.9"/><circle cx="1127.8" cy="224.2" r="6.9"/><circle cx="1134.8" cy="227.3" r="6.9"/><circle cx="1122.4" cy="237.4" r="6.9"/><circle cx="1127.0" cy="242.8" r="6.9"/><circle cx="1047.5" cy="237.4" r="6.9"/><circle cx="1049.1" cy="242.8" r="6.9"/><circle cx="1066.3" cy="241.3" r="6.9"/><circle cx="1075.6" cy="242.0" r="6.9"/><circle cx="1084.9" cy="242.8" r="6.9"/><circle cx="1097.5" cy="241.3" r="6.9"/><circle cx="1106.7" cy="239.7" r="6.9"/><circle cx="1109.1" cy="249.0" r="6.9"/><circle cx="1099.7" cy="250.5" r="6.9"/><circle cx="1089.6" cy="251.4" r="6.9"/><circle cx="1081.8" cy="254.5" r="6.9"/><circle cx="1062.4" cy="250.5" r="6.9"/><circle cx="1052.2" cy="253.7" r="6.9"/><circle cx="1124.7" cy="252.1" r="6.9"/><circle cx="1136.4" cy="252.1" r="6.9"/><circle cx="1144.2" cy="251.4" r="6.9"/><circle cx="955.0" cy="278.4" r="6.9"/><circle cx="967.5" cy="271.4" r="6.9"/><circle cx="983.0" cy="279.6" r="6.9"/><circle cx="971.4" cy="289.3" r="6.9"/><circle cx="990.0" cy="266.0" r="6.9"/><circle cx="997.9" cy="268.3" r="6.9"/><circle cx="1005.7" cy="258.2" r="6.9"/><circle cx="994.8" cy="286.9" r="6.9"/><circle cx="990.0" cy="291.7" r="6.9"/><circle cx="1005.7" cy="278.4" r="6.9"/><circle cx="1007.8" cy="270.9" r="6.9"/><circle cx="1017.3" cy="262.4" r="6.9"/><circle cx="1021.2" cy="264.4" r="6.9"/><circle cx="1018.2" cy="288.5" r="6.9"/><circle cx="1011.9" cy="286.2" r="6.9"/><circle cx="1002.6" cy="290.1" r="6.9"/><circle cx="1029.1" cy="269.9" r="6.9"/><circle cx="1042.8" cy="263.3" r="6.9"/><circle cx="1036.9" cy="276.2" r="6.9"/><circle cx="1044.7" cy="276.2" r="6.9"/><circle cx="1029.1" cy="282.3" r="6.9"/><circle cx="1033.0" cy="290.9" r="6.9"/><circle cx="1043.1" cy="289.3" r="6.9"/><circle cx="980.8" cy="293.3" r="6.9"/><circle cx="1194.1" cy="249.0" r="6.9"/><circle cx="1179.7" cy="255.6" r="6.9"/><circle cx="1203.9" cy="256.0" r="6.9"/><circle cx="1212.5" cy="254.9" r="6.9"/><circle cx="1240.5" cy="256.0" r="6.9"/><circle cx="1140.8" cy="262.9" r="6.9"/><circle cx="1158.7" cy="264.8" r="6.9"/><circle cx="1171.2" cy="269.2" r="6.9"/><circle cx="1186.0" cy="266.8" r="6.9"/><circle cx="1196.1" cy="266.8" r="6.9"/><circle cx="1217.2" cy="264.4" r="6.9"/><circle cx="1146.2" cy="275.3" r="6.9"/><circle cx="1142.3" cy="282.3" r="6.9"/><circle cx="1168.8" cy="280.0" r="6.9"/><circle cx="1173.5" cy="281.5" r="6.9"/><circle cx="1155.6" cy="286.2" r="6.9"/><circle cx="1162.6" cy="290.1" r="6.9"/><circle cx="1142.3" cy="294.0" r="6.9"/><circle cx="1191.4" cy="284.7" r="6.9"/><circle cx="1182.9" cy="289.3" r="6.9"/><circle cx="1204.7" cy="285.4" r="6.9"/><circle cx="1212.5" cy="280.8" r="6.9"/><circle cx="1206.3" cy="290.1" r="6.9"/><circle cx="1226.6" cy="280.0" r="6.9"/><circle cx="1237.5" cy="276.9" r="6.9"/><circle cx="1235.9" cy="287.8" r="6.9"/><circle cx="1193.8" cy="294.8" r="6.9"/><circle cx="1256.6" cy="287.9" r="6.9"/><circle cx="1261.3" cy="289.4" r="6.9"/><circle cx="1282.6" cy="288.2" r="6.9"/><circle cx="842.8" cy="300.5" r="6.9"/><circle cx="870.1" cy="307.6" r="6.9"/><circle cx="862.0" cy="317.7" r="6.9"/><circle cx="881.0" cy="299.1" r="6.9"/><circle cx="890.3" cy="306.4" r="6.9"/><circle cx="900.5" cy="298.6" r="6.9"/><circle cx="913.0" cy="304.9" r="6.9"/><circle cx="924.6" cy="305.6" r="6.9"/><circle cx="941.0" cy="303.3" r="6.9"/><circle cx="953.5" cy="299.4" r="6.9"/><circle cx="934.0" cy="307.2" r="6.9"/><circle cx="888.0" cy="323.5" r="6.9"/><circle cx="902.8" cy="323.5" r="6.9"/><circle cx="909.8" cy="322.8" r="6.9"/><circle cx="918.4" cy="329.7" r="6.9"/><circle cx="927.0" cy="319.6" r="6.9"/><circle cx="930.9" cy="325.1" r="6.9"/><circle cx="943.3" cy="316.5" r="6.9"/><circle cx="938.7" cy="327.4" r="6.9"/><circle cx="951.2" cy="321.1" r="6.9"/><circle cx="952.7" cy="330.5" r="6.9"/><circle cx="924.6" cy="336.0" r="6.9"/><circle cx="937.1" cy="339.9" r="6.9"/><circle cx="893.4" cy="333.6" r="6.9"/><circle cx="891.9" cy="342.1" r="6.9"/><circle cx="903.6" cy="343.7" r="6.9"/><circle cx="871.4" cy="343.7" r="6.9"/><circle cx="944.9" cy="348.4" r="6.9"/><circle cx="954.3" cy="341.4" r="6.9"/><circle cx="955.1" cy="353.9" r="6.9"/><circle cx="892.2" cy="358.5" r="6.9"/><circle cx="905.2" cy="361.6" r="6.9"/><circle cx="917.6" cy="358.5" r="6.9"/><circle cx="915.2" cy="364.7" r="6.9"/><circle cx="929.3" cy="366.2" r="6.9"/><circle cx="944.2" cy="365.5" r="6.9"/><circle cx="946.4" cy="369.4" r="6.9"/><circle cx="876.3" cy="368.6" r="6.9"/><circle cx="768.0" cy="364.3" r="6.9"/><circle cx="1136.4" cy="349.7" r="6.9"/><circle cx="1132.5" cy="354.3" r="6.9"/><circle cx="1125.5" cy="337.2" r="6.9"/><circle cx="1117.7" cy="346.5" r="6.9"/><circle cx="1115.4" cy="355.1" r="6.9"/><circle cx="1103.6" cy="365.2" r="6.9"/><circle cx="1095.0" cy="365.4" r="6.9"/><circle cx="1088.4" cy="362.5" r="6.9"/><circle cx="1052.3" cy="362.5" r="6.9"/><circle cx="1047.6" cy="367.3" r="6.9"/><circle cx="1147.1" cy="334.9" r="6.9"/><circle cx="1050.4" cy="364.4" r="6.9"/><circle cx="1049.5" cy="355.0" r="6.9"/><circle cx="1066.5" cy="357.8" r="6.9"/><circle cx="1077.9" cy="359.7" r="6.9"/><circle cx="1089.3" cy="357.8" r="6.9"/><circle cx="1098.8" cy="359.7" r="6.9"/><circle cx="1108.3" cy="357.8" r="6.9"/><circle cx="1195.4" cy="299.4" r="6.9"/><circle cx="1194.5" cy="306.0" r="6.9"/><circle cx="1184.4" cy="297.4" r="6.9"/><circle cx="1181.3" cy="306.0" r="6.9"/><circle cx="1175.1" cy="309.9" r="6.9"/><circle cx="1179.4" cy="318.4" r="6.9"/><circle cx="1196.9" cy="317.6" r="6.9"/><circle cx="1203.9" cy="323.9" r="6.9"/><circle cx="1209.4" cy="328.5" r="6.9"/><circle cx="1195.4" cy="326.2" r="6.9"/><circle cx="1223.8" cy="318.8" r="6.9"/><circle cx="1239.0" cy="331.6" r="6.9"/><circle cx="1244.3" cy="298.0" r="6.9"/><circle cx="1170.4" cy="329.3" r="6.9"/><circle cx="1186.0" cy="330.9" r="6.9"/><circle cx="1157.6" cy="321.0" r="6.9"/><circle cx="1159.5" cy="328.5" r="6.9"/><circle cx="1140.0" cy="298.3" r="6.9"/><circle cx="1149.3" cy="297.4" r="6.9"/><circle cx="1157.9" cy="297.4" r="6.9"/><circle cx="1167.2" cy="298.2" r="6.9"/><circle cx="1175.1" cy="299.8" r="6.9"/><circle cx="1142.3" cy="307.5" r="6.9"/><circle cx="1151.9" cy="306.8" r="6.9"/><circle cx="1140.8" cy="316.9" r="6.9"/><circle cx="1151.7" cy="316.0" r="6.9"/><circle cx="1140.0" cy="323.1" r="6.9"/><circle cx="1150.9" cy="332.4" r="6.9"/><circle cx="1234.8" cy="346.0" r="6.9"/><circle cx="1242.6" cy="350.7" r="6.9"/><circle cx="1259.0" cy="356.1" r="6.9"/><circle cx="1270.7" cy="357.7" r="6.9"/><circle cx="1282.7" cy="347.6" r="6.9"/><circle cx="1325.6" cy="350.1" r="6.9"/><circle cx="1139.5" cy="353.1" r="6.9"/><circle cx="1150.2" cy="335.3" r="6.9"/><circle cx="1161.1" cy="332.6" r="6.9"/><circle cx="1171.2" cy="333.3" r="6.9"/><circle cx="1178.2" cy="334.9" r="6.9"/><circle cx="1186.8" cy="334.9" r="6.9"/><circle cx="1196.9" cy="331.0" r="6.9"/><circle cx="1207.8" cy="331.8" r="6.9"/><circle cx="1153.2" cy="345.0" r="6.9"/><circle cx="1161.1" cy="349.7" r="6.9"/><circle cx="1168.8" cy="352.8" r="6.9"/><circle cx="1175.1" cy="346.6" r="6.9"/><circle cx="1165.0" cy="341.9" r="6.9"/><circle cx="1175.9" cy="341.1" r="6.9"/><circle cx="1191.0" cy="348.5" r="6.9"/><circle cx="1189.1" cy="357.4" r="6.9"/><circle cx="1204.7" cy="360.6" r="6.9"/><circle cx="1196.9" cy="362.1" r="6.9"/><circle cx="1178.2" cy="365.2" r="6.9"/><circle cx="1187.5" cy="366.0" r="6.9"/><circle cx="1207.0" cy="365.2" r="6.9"/><circle cx="1158.7" cy="362.1" r="6.9"/><circle cx="1235.9" cy="334.9" r="6.9"/><circle cx="914.5" cy="375.5" r="6.9"/><circle cx="914.5" cy="384.9" r="6.9"/><circle cx="899.7" cy="392.1" r="6.9"/><circle cx="928.0" cy="392.6" r="6.9"/><circle cx="921.5" cy="403.5" r="6.9"/><circle cx="953.5" cy="387.9" r="6.9"/><circle cx="954.3" cy="393.4" r="6.9"/><circle cx="955.8" cy="409.7" r="6.9"/><circle cx="852.6" cy="395.3" r="6.9"/><circle cx="840.2" cy="406.1" r="6.9"/><circle cx="854.5" cy="412.8" r="6.9"/><circle cx="867.0" cy="409.7" r="6.9"/><circle cx="879.4" cy="403.2" r="6.9"/><circle cx="824.9" cy="427.2" r="6.9"/><circle cx="873.2" cy="432.2" r="6.9"/><circle cx="936.3" cy="420.1" r="6.9"/><circle cx="931.6" cy="426.4" r="6.9"/><circle cx="905.7" cy="443.4" r="6.9"/><circle cx="962.8" cy="370.0" r="6.9"/><circle cx="972.2" cy="373.1" r="6.9"/><circle cx="972.2" cy="384.9" r="6.9"/><circle cx="961.3" cy="387.9" r="6.9"/><circle cx="985.5" cy="375.5" r="6.9"/><circle cx="993.3" cy="377.0" r="6.9"/><circle cx="991.7" cy="370.0" r="6.9"/><circle cx="1002.7" cy="370.0" r="6.9"/><circle cx="1014.3" cy="368.5" r="6.9"/><circle cx="1008.8" cy="376.3" r="6.9"/><circle cx="1016.7" cy="380.9" r="6.9"/><circle cx="1018.2" cy="375.5" r="6.9"/><circle cx="1002.7" cy="388.7" r="6.9"/><circle cx="997.9" cy="398.8" r="6.9"/><circle cx="1018.2" cy="394.1" r="6.9"/><circle cx="1015.1" cy="401.1" r="6.9"/><circle cx="1030.7" cy="371.6" r="6.9"/><circle cx="1032.2" cy="377.9" r="6.9"/><circle cx="1037.7" cy="384.0" r="6.9"/><circle cx="1047.9" cy="373.1" r="6.9"/><circle cx="1043.1" cy="387.1" r="6.9"/><circle cx="1038.5" cy="392.6" r="6.9"/><circle cx="1048.6" cy="398.8" r="6.9"/><circle cx="968.3" cy="401.1" r="6.9"/><circle cx="976.1" cy="402.7" r="6.9"/><circle cx="985.5" cy="403.5" r="6.9"/><circle cx="957.4" cy="405.1" r="6.9"/><circle cx="1056.9" cy="372.4" r="6.9"/><circle cx="1053.8" cy="377.0" r="6.9"/><circle cx="1045.2" cy="387.1" r="6.9"/><circle cx="1063.5" cy="402.0" r="6.9"/><circle cx="1078.7" cy="376.3" r="6.9"/><circle cx="1091.2" cy="370.0" r="6.9"/><circle cx="1098.2" cy="372.4" r="6.9"/><circle cx="1105.2" cy="368.5" r="6.9"/><circle cx="1098.2" cy="387.9" r="6.9"/><circle cx="1089.6" cy="401.1" r="6.9"/><circle cx="1109.1" cy="390.2" r="6.9"/><circle cx="1109.9" cy="402.0" r="6.9"/><circle cx="1113.8" cy="379.4" r="6.9"/><circle cx="1120.8" cy="383.2" r="6.9"/><circle cx="1128.6" cy="376.3" r="6.9"/><circle cx="1143.4" cy="389.5" r="6.9"/><circle cx="1146.6" cy="373.1" r="6.9"/><circle cx="963.5" cy="414.5" r="6.9"/><circle cx="996.8" cy="403.2" r="6.9"/><circle cx="983.5" cy="411.6" r="6.9"/><circle cx="983.5" cy="419.7" r="6.9"/><circle cx="974.6" cy="422.7" r="6.9"/><circle cx="1005.6" cy="419.7" r="6.9"/><circle cx="1007.8" cy="423.3" r="6.9"/><circle cx="1019.6" cy="407.9" r="6.9"/><circle cx="1035.1" cy="413.1" r="6.9"/><circle cx="1044.0" cy="411.6" r="6.9"/><circle cx="1055.1" cy="414.5" r="6.9"/><circle cx="1055.7" cy="427.5" r="6.9"/><circle cx="1094.1" cy="411.6" r="6.9"/><circle cx="1092.7" cy="421.9" r="6.9"/><circle cx="1110.3" cy="416.0" r="6.9"/><circle cx="1122.2" cy="410.8" r="6.9"/><circle cx="992.3" cy="449.9" r="6.9"/><circle cx="1016.2" cy="443.6" r="6.9"/><circle cx="1043.7" cy="460.9" r="6.9"/><circle cx="1150.2" cy="372.4" r="6.9"/><circle cx="1159.5" cy="366.1" r="6.9"/><circle cx="1154.0" cy="379.4" r="6.9"/><circle cx="1155.6" cy="387.1" r="6.9"/><circle cx="1154.0" cy="398.8" r="6.9"/><circle cx="1159.5" cy="396.5" r="6.9"/><circle cx="1166.5" cy="391.0" r="6.9"/><circle cx="1171.2" cy="398.0" r="6.9"/><circle cx="1179.0" cy="388.7" r="6.9"/><circle cx="1188.3" cy="387.9" r="6.9"/><circle cx="1184.4" cy="401.9" r="6.9"/><circle cx="1177.5" cy="367.7" r="6.9"/><circle cx="1186.0" cy="368.5" r="6.9"/><circle cx="1193.8" cy="374.7" r="6.9"/><circle cx="1200.0" cy="367.7" r="6.9"/><circle cx="1207.8" cy="380.1" r="6.9"/><circle cx="1200.0" cy="394.1" r="6.9"/><circle cx="1207.0" cy="392.6" r="6.9"/><circle cx="1208.6" cy="399.6" r="6.9"/><circle cx="1231.5" cy="394.9" r="6.9"/><circle cx="1248.0" cy="376.0" r="6.9"/><circle cx="1251.1" cy="403.2" r="6.9"/><circle cx="1156.5" cy="444.3" r="6.9"/><circle cx="1045.1" cy="260.5" r="6.9"/><circle cx="1043.9" cy="269.7" r="6.9"/><circle cx="1046.9" cy="285.0" r="6.9"/><circle cx="1044.3" cy="295.7" r="6.9"/><circle cx="1055.0" cy="257.9" r="6.9"/><circle cx="1055.8" cy="273.8" r="6.9"/><circle cx="1053.6" cy="277.7" r="6.9"/><circle cx="1054.6" cy="284.5" r="6.9"/><circle cx="1052.8" cy="293.4" r="6.9"/><circle cx="1063.3" cy="258.1" r="6.9"/><circle cx="1061.3" cy="267.6" r="6.9"/><circle cx="1062.5" cy="278.3" r="6.9"/><circle cx="1059.5" cy="284.8" r="6.9"/><circle cx="1059.2" cy="294.9" r="6.9"/><circle cx="1071.8" cy="260.0" r="6.9"/><circle cx="1069.1" cy="266.9" r="6.9"/><circle cx="1071.3" cy="276.1" r="6.9"/><circle cx="1072.9" cy="283.1" r="6.9"/><circle cx="1071.8" cy="298.0" r="6.9"/><circle cx="1080.1" cy="260.9" r="6.9"/><circle cx="1077.1" cy="269.1" r="6.9"/><circle cx="1079.9" cy="275.9" r="6.9"/><circle cx="1077.5" cy="284.6" r="6.9"/><circle cx="1079.2" cy="295.3" r="6.9"/><circle cx="1085.8" cy="259.0" r="6.9"/><circle cx="1085.3" cy="269.5" r="6.9"/><circle cx="1087.3" cy="278.0" r="6.9"/><circle cx="1085.4" cy="284.8" r="6.9"/><circle cx="1088.0" cy="293.2" r="6.9"/><circle cx="1101.3" cy="258.4" r="6.9"/><circle cx="1093.8" cy="267.3" r="6.9"/><circle cx="1102.4" cy="275.7" r="6.9"/><circle cx="1093.5" cy="287.0" r="6.9"/><circle cx="1096.5" cy="293.9" r="6.9"/><circle cx="1103.5" cy="260.4" r="6.9"/><circle cx="1102.5" cy="267.2" r="6.9"/><circle cx="1101.9" cy="286.5" r="6.9"/><circle cx="1104.7" cy="295.9" r="6.9"/><circle cx="1111.1" cy="260.6" r="6.9"/><circle cx="1111.7" cy="266.7" r="6.9"/><circle cx="1117.8" cy="280.2" r="6.9"/><circle cx="1110.5" cy="284.4" r="6.9"/><circle cx="1112.7" cy="294.9" r="6.9"/><circle cx="1113.3" cy="256.8" r="6.9"/><circle cx="1120.2" cy="269.1" r="6.9"/><circle cx="1119.6" cy="278.3" r="6.9"/><circle cx="1119.3" cy="285.2" r="6.9"/><circle cx="1120.4" cy="293.0" r="6.9"/><circle cx="1128.5" cy="258.4" r="6.9"/><circle cx="1128.9" cy="267.0" r="6.9"/><circle cx="1127.2" cy="277.6" r="6.9"/><circle cx="1127.3" cy="286.9" r="6.9"/><circle cx="1127.8" cy="294.4" r="6.9"/><circle cx="1134.6" cy="260.8" r="6.9"/><circle cx="1136.9" cy="267.4" r="6.9"/><circle cx="1134.9" cy="275.6" r="6.9"/><circle cx="1137.6" cy="280.6" r="6.9"/><circle cx="1135.1" cy="299.7" r="6.9"/><circle cx="1142.9" cy="260.3" r="6.9"/><circle cx="1151.9" cy="268.7" r="6.9"/><circle cx="1142.6" cy="277.5" r="6.9"/><circle cx="1145.6" cy="284.2" r="6.9"/><circle cx="1144.6" cy="295.3" r="6.9"/><circle cx="953.6" cy="297.2" r="6.9"/><circle cx="956.9" cy="301.4" r="6.9"/><circle cx="955.8" cy="317.2" r="6.9"/><circle cx="955.9" cy="321.6" r="6.9"/><circle cx="953.3" cy="332.5" r="6.9"/><circle cx="970.8" cy="295.4" r="6.9"/><circle cx="963.1" cy="305.8" r="6.9"/><circle cx="963.0" cy="314.1" r="6.9"/><circle cx="964.0" cy="321.1" r="6.9"/><circle cx="958.0" cy="326.3" r="6.9"/><circle cx="973.1" cy="294.0" r="6.9"/><circle cx="971.1" cy="303.8" r="6.9"/><circle cx="972.3" cy="314.7" r="6.9"/><circle cx="972.0" cy="323.3" r="6.9"/><circle cx="971.4" cy="330.3" r="6.9"/><circle cx="982.0" cy="296.0" r="6.9"/><circle cx="979.3" cy="303.1" r="6.9"/><circle cx="981.5" cy="312.5" r="6.9"/><circle cx="980.0" cy="323.5" r="6.9"/><circle cx="980.6" cy="332.6" r="6.9"/><circle cx="990.7" cy="296.8" r="6.9"/><circle cx="987.7" cy="305.2" r="6.9"/><circle cx="987.4" cy="307.6" r="6.9"/><circle cx="987.0" cy="322.7" r="6.9"/><circle cx="989.0" cy="332.3" r="6.9"/><circle cx="999.1" cy="294.7" r="6.9"/><circle cx="996.3" cy="305.6" r="6.9"/><circle cx="1001.6" cy="314.2" r="6.9"/><circle cx="997.7" cy="322.7" r="6.9"/><circle cx="1004.6" cy="327.4" r="6.9"/><circle cx="1007.3" cy="294.2" r="6.9"/><circle cx="1005.2" cy="303.4" r="6.9"/><circle cx="1007.8" cy="314.4" r="6.9"/><circle cx="1004.9" cy="323.6" r="6.9"/><circle cx="1007.9" cy="330.7" r="6.9"/><circle cx="1013.3" cy="295.1" r="6.9"/><circle cx="1013.0" cy="304.1" r="6.9"/><circle cx="1016.1" cy="312.2" r="6.9"/><circle cx="1013.7" cy="323.1" r="6.9"/><circle cx="1016.5" cy="332.8" r="6.9"/><circle cx="1026.1" cy="293.1" r="6.9"/><circle cx="1024.5" cy="307.5" r="6.9"/><circle cx="1024.2" cy="312.6" r="6.9"/><circle cx="1022.7" cy="321.0" r="6.9"/><circle cx="1024.9" cy="331.8" r="6.9"/><circle cx="1031.3" cy="294.3" r="6.9"/><circle cx="1032.8" cy="305.3" r="6.9"/><circle cx="1032.2" cy="314.7" r="6.9"/><circle cx="1031.9" cy="321.9" r="6.9"/><circle cx="1033.1" cy="329.9" r="6.9"/><circle cx="1039.5" cy="294.5" r="6.9"/><circle cx="1041.6" cy="302.7" r="6.9"/><circle cx="1038.3" cy="314.9" r="6.9"/><circle cx="1041.1" cy="323.8" r="6.9"/><circle cx="1038.0" cy="331.3" r="6.9"/><circle cx="1048.0" cy="296.7" r="6.9"/><circle cx="1051.7" cy="302.2" r="6.9"/><circle cx="1053.8" cy="317.6" r="6.9"/><circle cx="1050.3" cy="322.7" r="6.9"/><circle cx="1053.0" cy="335.7" r="6.9"/><circle cx="1049.5" cy="296.9" r="6.9"/><circle cx="1049.9" cy="304.8" r="6.9"/><circle cx="1048.6" cy="312.0" r="6.9"/><circle cx="1049.9" cy="318.7" r="6.9"/><circle cx="1048.3" cy="338.1" r="6.9"/><circle cx="1057.6" cy="295.2" r="6.9"/><circle cx="1057.6" cy="305.8" r="6.9"/><circle cx="1057.5" cy="314.1" r="6.9"/><circle cx="1056.5" cy="318.2" r="6.9"/><circle cx="1074.5" cy="291.4" r="6.9"/><circle cx="1061.8" cy="304.5" r="6.9"/><circle cx="1066.4" cy="314.7" r="6.9"/><circle cx="1070.0" cy="319.6" r="6.9"/><circle cx="1069.6" cy="334.8" r="6.9"/><circle cx="1075.8" cy="296.0" r="6.9"/><circle cx="1075.0" cy="298.0" r="6.9"/><circle cx="1072.8" cy="310.5" r="6.9"/><circle cx="1073.8" cy="323.5" r="6.9"/><circle cx="1074.4" cy="332.6" r="6.9"/><circle cx="1084.1" cy="296.8" r="6.9"/><circle cx="1085.3" cy="309.6" r="6.9"/><circle cx="1082.6" cy="324.2" r="6.9"/><circle cx="1083.3" cy="332.2" r="6.9"/><circle cx="1092.1" cy="294.7" r="6.9"/><circle cx="1089.4" cy="305.6" r="6.9"/><circle cx="1092.4" cy="314.5" r="6.9"/><circle cx="1089.4" cy="321.5" r="6.9"/><circle cx="1092.0" cy="330.0" r="6.9"/><circle cx="1100.0" cy="294.2" r="6.9"/><circle cx="1096.3" cy="301.0" r="6.9"/><circle cx="1100.3" cy="316.9" r="6.9"/><circle cx="1097.6" cy="323.6" r="6.9"/><circle cx="1100.6" cy="330.7" r="6.9"/><circle cx="1107.4" cy="295.1" r="6.9"/><circle cx="1102.5" cy="298.0" r="6.9"/><circle cx="1108.8" cy="312.4" r="6.9"/><circle cx="1106.0" cy="323.1" r="6.9"/><circle cx="1108.9" cy="332.8" r="6.9"/><circle cx="1113.1" cy="291.8" r="6.9"/><circle cx="1117.7" cy="308.3" r="6.9"/><circle cx="1116.2" cy="312.6" r="6.9"/><circle cx="1114.7" cy="321.0" r="6.9"/><circle cx="1116.9" cy="331.8" r="6.9"/><circle cx="1123.4" cy="294.0" r="6.9"/><circle cx="1124.4" cy="303.6" r="6.9"/><circle cx="1121.4" cy="317.4" r="6.9"/><circle cx="1123.6" cy="321.9" r="6.9"/><circle cx="1124.7" cy="329.9" r="6.9"/><circle cx="1133.3" cy="303.1" r="6.9"/><circle cx="1134.2" cy="315.5" r="6.9"/><circle cx="1130.8" cy="321.5" r="6.9"/><circle cx="1127.7" cy="333.4" r="6.9"/><circle cx="1141.6" cy="298.1" r="6.9"/><circle cx="1141.9" cy="303.7" r="6.9"/><circle cx="1139.3" cy="312.0" r="6.9"/><circle cx="1142.2" cy="321.5" r="6.9"/><circle cx="1143.3" cy="336.1" r="6.9"/><circle cx="954.5" cy="331.0" r="6.9"/><circle cx="957.5" cy="343.4" r="6.9"/><circle cx="953.8" cy="348.9" r="6.9"/><circle cx="959.1" cy="353.3" r="6.9"/><circle cx="953.4" cy="369.2" r="6.9"/><circle cx="963.6" cy="340.0" r="6.9"/><circle cx="963.1" cy="343.2" r="6.9"/><circle cx="962.6" cy="350.2" r="6.9"/><circle cx="961.8" cy="366.9" r="6.9"/><circle cx="973.0" cy="329.3" r="6.9"/><circle cx="966.7" cy="346.0" r="6.9"/><circle cx="972.7" cy="351.0" r="6.9"/><circle cx="976.5" cy="359.9" r="6.9"/><circle cx="971.9" cy="367.1" r="6.9"/><circle cx="982.0" cy="333.8" r="6.9"/><circle cx="982.6" cy="341.2" r="6.9"/><circle cx="979.6" cy="348.0" r="6.9"/><circle cx="978.0" cy="359.2" r="6.9"/><circle cx="977.2" cy="375.0" r="6.9"/><circle cx="988.3" cy="335.1" r="6.9"/><circle cx="987.7" cy="342.6" r="6.9"/><circle cx="992.0" cy="343.9" r="6.9"/><circle cx="989.9" cy="366.5" r="6.9"/><circle cx="989.9" cy="368.1" r="6.9"/><circle cx="1005.8" cy="329.6" r="6.9"/><circle cx="996.3" cy="343.0" r="6.9"/><circle cx="997.8" cy="348.5" r="6.9"/><circle cx="999.6" cy="359.1" r="6.9"/><circle cx="999.0" cy="365.9" r="6.9"/><circle cx="1005.2" cy="340.7" r="6.9"/><circle cx="1008.3" cy="341.6" r="6.9"/><circle cx="1004.1" cy="362.1" r="6.9"/><circle cx="1007.9" cy="366.6" r="6.9"/><circle cx="1015.3" cy="334.2" r="6.9"/><circle cx="1014.3" cy="340.7" r="6.9"/><circle cx="1019.9" cy="342.7" r="6.9"/><circle cx="1011.7" cy="361.5" r="6.9"/><circle cx="1012.0" cy="371.6" r="6.9"/><circle cx="1023.3" cy="334.4" r="6.9"/><circle cx="1023.1" cy="342.5" r="6.9"/><circle cx="1022.1" cy="343.9" r="6.9"/><circle cx="1024.7" cy="357.8" r="6.9"/><circle cx="1029.4" cy="369.0" r="6.9"/><circle cx="1031.3" cy="332.1" r="6.9"/><circle cx="1033.8" cy="340.8" r="6.9"/><circle cx="1027.0" cy="356.7" r="6.9"/><circle cx="1032.0" cy="368.9" r="6.9"/><circle cx="1036.7" cy="330.7" r="6.9"/><circle cx="1040.5" cy="343.3" r="6.9"/><circle cx="1043.6" cy="351.8" r="6.9"/><circle cx="1043.5" cy="360.1" r="6.9"/><circle cx="1041.1" cy="367.1" r="6.9"/><circle cx="1053.8" cy="333.3" r="6.9"/><circle cx="1051.4" cy="341.5" r="6.9"/><circle cx="1048.3" cy="348.8" r="6.9"/><circle cx="1050.3" cy="359.0" r="6.9"/><circle cx="1049.1" cy="368.8" r="6.9"/><circle cx="1052.9" cy="339.3" r="6.9"/><circle cx="1049.9" cy="345.0" r="6.9"/><circle cx="1048.6" cy="351.7" r="6.9"/><circle cx="1059.1" cy="335.8" r="6.9"/><circle cx="1058.3" cy="346.0" r="6.9"/><circle cx="1058.2" cy="353.8" r="6.9"/><circle cx="1066.7" cy="344.0" r="6.9"/><circle cx="1067.8" cy="354.4" r="6.9"/><circle cx="1078.0" cy="336.6" r="6.9"/><circle cx="1075.3" cy="343.3" r="6.9"/><circle cx="1077.4" cy="352.2" r="6.9"/><circle cx="1087.0" cy="337.5" r="6.9"/><circle cx="1084.0" cy="345.4" r="6.9"/><circle cx="1086.8" cy="351.9" r="6.9"/><circle cx="1095.8" cy="335.3" r="6.9"/><circle cx="1093.0" cy="345.8" r="6.9"/><circle cx="1096.0" cy="354.2" r="6.9"/><circle cx="1104.4" cy="334.8" r="6.9"/><circle cx="1102.3" cy="343.6" r="6.9"/><circle cx="1104.9" cy="354.1" r="6.9"/><circle cx="1112.8" cy="337.0" r="6.9"/><circle cx="1111.8" cy="343.5" r="6.9"/><circle cx="1113.6" cy="351.9" r="6.9"/><circle cx="1121.2" cy="337.2" r="6.9"/><circle cx="1121.4" cy="345.8" r="6.9"/><circle cx="1122.1" cy="352.3" r="6.9"/></g>
<g class="dark"><circle cx="1155.1" cy="103.2" r="6.9"/><circle cx="1174.9" cy="139.9" r="6.9"/><circle cx="1182.6" cy="166.5" r="6.9"/><circle cx="1145.1" cy="178.6" r="6.9"/><circle cx="1131.8" cy="194.1" r="6.9"/><circle cx="1130.1" cy="197.5" r="6.9"/><circle cx="1151.3" cy="198.9" r="6.9"/><circle cx="1158.5" cy="207.8" r="6.9"/><circle cx="1168.0" cy="192.0" r="6.9"/><circle cx="1194.3" cy="194.1" r="6.9"/><circle cx="1211.0" cy="189.3" r="6.9"/><circle cx="1241.4" cy="204.1" r="6.9"/><circle cx="1139.6" cy="223.3" r="6.9"/><circle cx="1143.0" cy="225.0" r="6.9"/><circle cx="1131.8" cy="231.1" r="6.9"/><circle cx="1143.9" cy="234.5" r="6.9"/><circle cx="1173.1" cy="225.4" r="6.9"/><circle cx="1188.1" cy="226.8" r="6.9"/><circle cx="1188.1" cy="231.1" r="6.9"/><circle cx="1211.8" cy="231.9" r="6.9"/><circle cx="1155.0" cy="240.5" r="6.9"/><circle cx="1161.9" cy="240.5" r="6.9"/><circle cx="1158.5" cy="245.7" r="6.9"/><circle cx="1153.3" cy="245.7" r="6.9"/></g></g>
<rect x="771" y="81.6" width="553" height="378.4" fill="none" stroke="#1872d0" stroke-width="8"/>
<polygon points="517.2,21.0 601.9,29.6 603.3,12.9 685.1,54.7 596.9,78.8 598.1,62.0 513.8,53.0" fill="#1872d0"/>
</svg>
</body></html>
